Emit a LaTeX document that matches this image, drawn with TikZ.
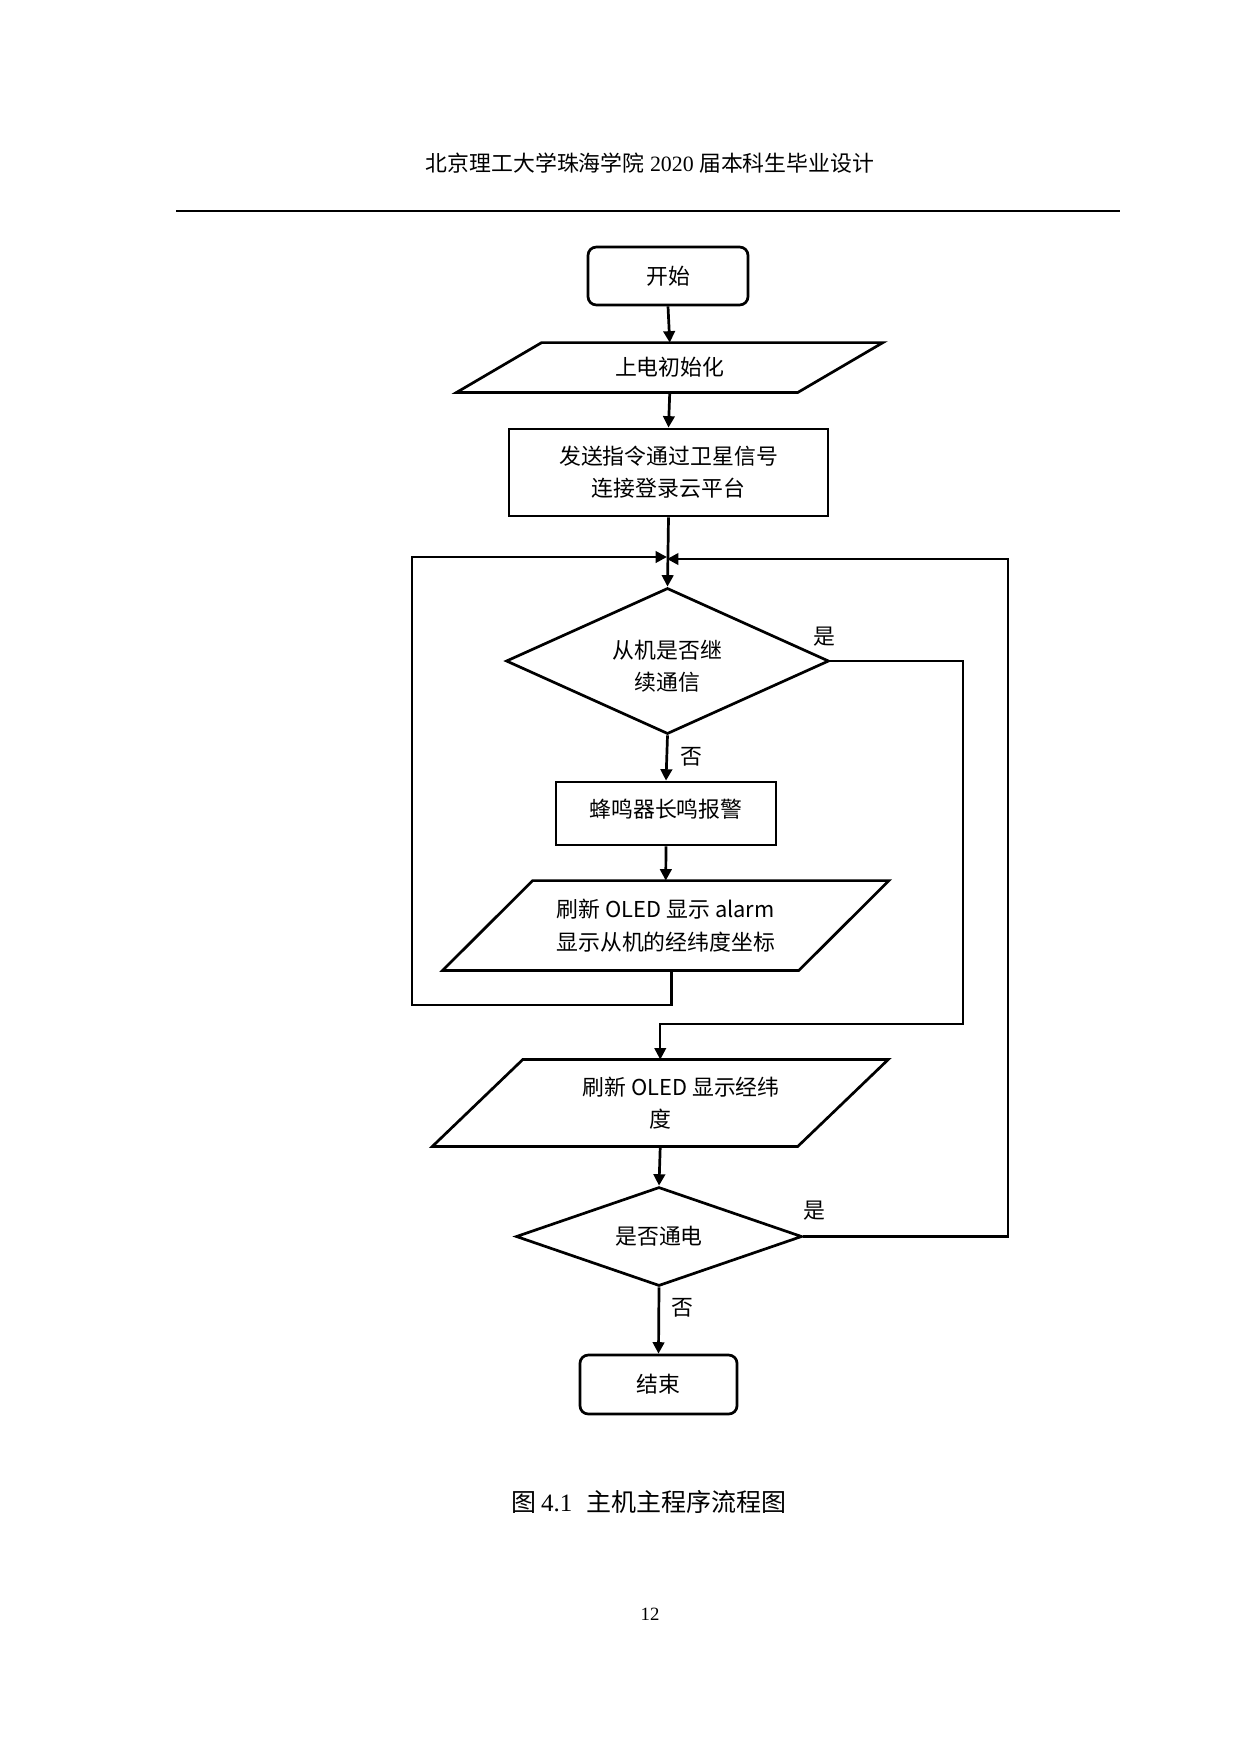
\documentclass[tikz,border=0pt]{standalone}
\usepackage{fontspec}
\setmainfont{Liberation Serif}
\newfontfamily\cjk{Noto Sans CJK SC}
\usetikzlibrary{shapes.geometric,arrows.meta,calc}

\tikzset{
  shapeline/.style={draw=black, line width=1.3pt},
  txt/.style={font={\cjk\fontsize{10.5pt}{15.5pt}\selectfont}, align=center, inner sep=0pt},
  termbox/.style={txt, shapeline, rounded corners=4pt},
  procbox/.style={txt, shapeline},
  parabox/.style={txt, draw=none},
  decision/.style={txt, shapeline, diamond, aspect=2},
  conn/.style={line width=1.3pt},
  thinconn/.style={line width=1.1pt},
  arr/.style={-{Triangle[length=5.5pt,width=5.5pt]}},
  lbl/.style={txt}
}

\newcommand{\drawpara}[2]{%
  \draw[shapeline, line join=miter] ([xshift=#2]#1.north west) -- ([xshift=#2]#1.north east)
     -- ([xshift=-#2]#1.south east) -- ([xshift=-#2]#1.south west) -- cycle;}

\begin{document}
\begin{tikzpicture}[x=0.48pt,y=-0.48pt]
\useasboundingbox (0,0) rectangle (1240,1754);
\fill[white] (0,0) rectangle (1240,1754);

% header
\node[inner sep=0pt, font=\fontsize{10.5pt}{12pt}\selectfont] (head) at (650,163)
  {{\cjk 北京理工大学珠海学院} 2020 {\cjk 届本科生毕业设计}};
\coordinate (ruleL) at (176,211);
\coordinate (ruleR) at (1120,211);
\draw[line width=1pt] (ruleL) -- (ruleR);

% nodes
\node[termbox, minimum width=76.8pt, minimum height=27.8pt] (start) at (668,276) {开始};
\node[parabox, minimum width=163.4pt, minimum height=23.5pt] (p1) at (669.75,367.5) {上电初始化};
\drawpara{p1}{20.4pt}
\node[procbox, minimum width=153.1pt, minimum height=41.8pt] (conn1) at (668.5,472.5)
  {发送指令通过卫星信号\\连接登录云平台};
\node[decision, minimum width=155pt, minimum height=70.1pt] (d1) at (667.5,661)
  {\rule{0pt}{14pt}从机是否继\\续通信};
\node[procbox, minimum width=105.6pt, minimum height=30.2pt, text height=9.5pt, text depth=6pt] (buzz) at (666,813.5)
  {蜂鸣器长鸣报警};
\node[parabox, minimum width=170.6pt, minimum height=42.7pt] (p2) at (665.75,925.5)
  {刷新 OLED 显示 alarm\\显示从机的经纬度坐标};
\drawpara{p2}{21.6pt}
\node[parabox, minimum width=175pt, minimum height=41.3pt] (p3) at (660.25,1103)
  {\hspace*{20pt}刷新 OLED 显示经纬\\度};
\drawpara{p3}{21.7pt}
\node[decision, minimum width=137.3pt, minimum height=47.5pt] (d2) at (659,1236.5)
  {是否通电};
\node[termbox, minimum width=75.4pt, minimum height=28.3pt] (stop) at (658.5,1384.5) {结束};

% helper coordinates
\coordinate (mergeL) at (667,557);
\coordinate (mergeR) at (667,559);
\coordinate (loopLB) at (412,1005);
\coordinate (yesR) at (963,1024);
\coordinate (outerR) at (1008,559);

% connectors
\draw[conn, arr] (start.south) -- (p1.north);
\draw[conn, arr] (p1.south) -- (conn1.north);
\draw[conn, arr] (conn1.south) -- (d1.north);
\draw[conn, arr] (d1.south) -- (buzz.north);
\draw[conn, arr] (buzz.south) -- (p2.north);
\draw[conn, arr] ([xshift=2.9pt]p2.south) |- (loopLB) |- (mergeL);
\draw[thinconn, arr] (d1.east) -| (yesR) -| (p3.north);
\draw[conn, arr] (p3.south) -- (d2.north);
\draw[conn, arr] (d2.east) -| (outerR) -- (mergeR);
\draw[conn, arr] (d2.south) -- (stop.north);

% labels
\node[lbl] (yes1) at (824,637) {是};
\node[lbl] (no1) at (691,757) {否};
\node[lbl] (yes2) at (814,1211) {是};
\node[lbl] (no2) at (682,1308) {否};

% caption & page number
\node[inner sep=0pt, font=\fontsize{12pt}{14pt}\selectfont] (cap) at (649,1502)
  {{\cjk 图}\,4.1\;\;{\cjk 主机主程序流程图}};
\node[inner sep=0pt, font=\fontsize{9pt}{11pt}\selectfont] (pnum) at (650,1614) {12};
\end{tikzpicture}
\end{document}
